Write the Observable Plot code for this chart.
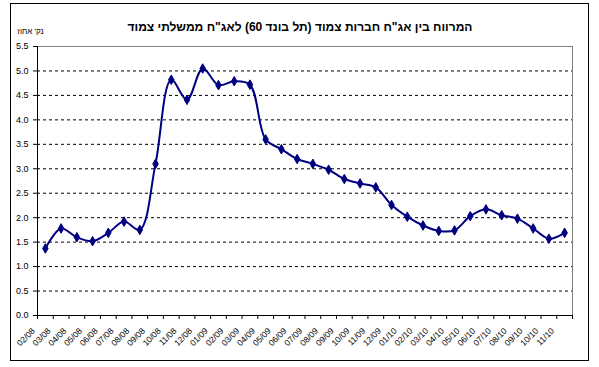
<!DOCTYPE html>
<html>
<head>
<meta charset="utf-8">
<script src="https://cdn.jsdelivr.net/npm/d3@7"></script>
<script src="https://cdn.jsdelivr.net/npm/@observablehq/plot@0.6"></script>
<style>
  html, body { margin: 0; padding: 0; background: white; }
</style>
</head>
<body>
<div id="chart"></div>
<script>
const title = "המרווח בין אג\"ח חברות צמוד (תל בונד 60) לאג\"ח ממשלתי צמוד";
const yLabel = "נק' אחוז";
const months = ["02/08","03/08","04/08","05/08","06/08","07/08","08/08","09/08","10/08","11/08","12/08",
  "01/09","02/09","03/09","04/09","05/09","06/09","07/09","08/09","09/09","10/09","11/09","12/09",
  "01/10","02/10","03/10","04/10","05/10","06/10","07/10","08/10","09/10","10/10","11/10"];
const spread = [1.37, 1.78, 1.60, 1.52, 1.69, 1.92, 1.75, 3.10, 4.82, 4.41, 5.05,
  4.71, 4.79, 4.72, 3.60, 3.40, 3.20, 3.10, 2.98, 2.79, 2.70, 2.62, 2.26,
  2.02, 1.84, 1.73, 1.74, 2.03, 2.17, 2.05, 1.98, 1.78, 1.57, 1.69];
const yTicks = [0, 0.5, 1, 1.5, 2, 2.5, 3, 3.5, 4, 4.5, 5, 5.5];
const gridValues = yTicks.filter(v => v > 0 && v < 5.5);

const n = months.length;
const xi = (d, i) => i + 0.5;
const font = "'Liberation Sans', Arial, sans-serif";

const chart = Plot.plot({
  width: 599,
  height: 367,
  marginLeft: 37,
  marginRight: 27,
  marginTop: 46,
  marginBottom: 52,
  style: { fontFamily: font, background: "white", color: "black" },
  x: { domain: [0, n], axis: null },
  y: { domain: [0, 5.5], axis: null },
  marks: [
    Plot.frame({ insetLeft: -27, insetTop: -43, insetRight: -16, insetBottom: -45, stroke: "black" }),
    Plot.ruleY(gridValues, { stroke: "black", strokeDasharray: "3,3" }),
    Plot.ruleY([5.5], { stroke: "#808080" }),
    Plot.ruleX([n], { stroke: "#808080" }),
    Plot.ruleX([0], { stroke: "black" }),
    Plot.ruleY([0], { stroke: "black" }),
    Plot.axisY({ ticks: yTicks, tickFormat: d => d.toFixed(1), tickSize: 4, tickPadding: 5, fontSize: 9, stroke: "black", fill: "black" }),
    Plot.axisX({ ticks: d3.range(n + 1), tickFormat: () => "", tickSize: 4, stroke: "black" }),
    Plot.text(months, { x: xi, frameAnchor: "bottom", dy: 16, dx: -10, rotate: -45, textAnchor: "end", fontSize: 8.5, fill: "black" }),
    Plot.line(spread, { x: xi, y: d => d, stroke: "#000080", strokeWidth: 2, curve: "catmull-rom" }),
    Plot.dot(spread, { x: xi, y: d => d, symbol: "diamond", r: 2.9, fill: "#000080", stroke: "#000080", strokeWidth: 1 }),
    Plot.text([title], { frameAnchor: "top", dx: -5, dy: -24, fontWeight: "bold", fontSize: 12, fill: "black" }),
    Plot.text([yLabel], { frameAnchor: "top-left", dx: -7, dy: -18, textAnchor: "middle", fontSize: 8, fill: "black" })
  ]
});
document.getElementById("chart").appendChild(chart);
</script>
</body>
</html>
